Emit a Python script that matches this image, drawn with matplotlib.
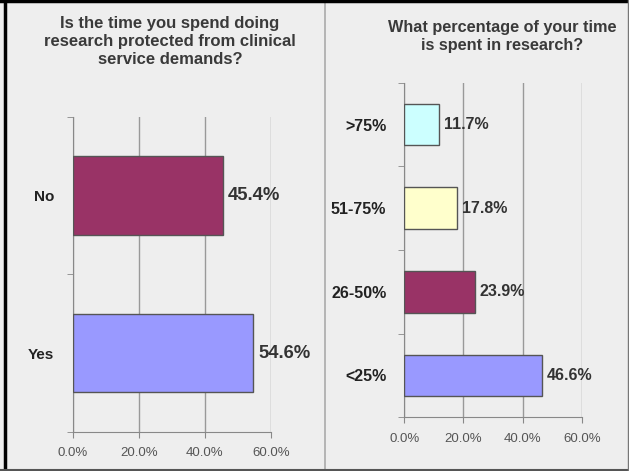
import matplotlib
matplotlib.use("Agg")
import matplotlib.pyplot as plt
from matplotlib.lines import Line2D
from matplotlib.ticker import FixedLocator

plt.rcParams["font.family"] = ["Liberation Sans", "DejaVu Sans"]

# left panel: protected research time
protect_labels = ["Yes", "No"]
protect_values = [54.6, 45.4]
protect_colors = ["#9999FF", "#993366"]

# right panel: share of time in research
share_labels = ["<25%", "26-50%", "51-75%", ">75%"]
share_values = [46.6, 23.9, 17.8, 11.7]
share_colors = ["#9999FF", "#993366", "#FFFFCC", "#CCFFFF"]

x_ticks = [0, 20, 40, 60]
x_ticklabels = ["0.0%", "20.0%", "40.0%", "60.0%"]

BG = "#EEEEEE"

fig = plt.figure(figsize=(6.29, 4.71), dpi=100, facecolor=BG)


def draw_panel(ax, labels, values, colors, title, title_y, title_x,
               value_size, cat_size, title_size):
    n = len(labels)
    pos = list(range(n))
    ax.set_facecolor(BG)
    ax.barh(pos, values, height=0.5, color=colors, edgecolor="#555555",
            linewidth=1.0, zorder=3)
    for p, v in zip(pos, values):
        ax.annotate(f"{v:.1f}%", (v, p), xytext=(3.5, 0), textcoords="offset points",
                    va="center", ha="left", fontsize=value_size, fontweight="bold",
                    color="#333333", zorder=4)
    ax.set_xlim(0, 60)
    ax.set_ylim(-0.5, n - 0.5)
    ax.set_xticks(x_ticks)
    ax.set_xticklabels(x_ticklabels, fontsize=9.5, color="#555555")
    ax.set_yticks(pos)
    ax.set_yticklabels(labels, fontsize=cat_size, fontweight="bold", color="#222222")
    ax.yaxis.set_minor_locator(FixedLocator([i - 0.5 for i in range(n + 1)]))
    ax.tick_params(axis="y", which="major", length=0, pad=13)
    ax.tick_params(axis="y", which="minor", length=4, color="#888888")
    ax.tick_params(axis="x", length=4, color="#888888", pad=7)
    ax.grid(axis="x", color="#999999", linewidth=1.0, zorder=0)
    for s in ["top", "right"]:
        ax.spines[s].set_visible(False)
    for s in ["left", "bottom"]:
        ax.spines[s].set_color("#888888")
    fig.text(title_x, title_y, title, ha="center", va="top", fontsize=title_size,
             fontweight="bold", color="#3A3A3A", linespacing=1.25)


ax1 = fig.add_axes([0.1153, 0.0834, 0.3155, 0.6682])
draw_panel(ax1, protect_labels, protect_values, protect_colors,
           "Is the time you spend doing\nresearch protected from clinical\nservice demands?",
           0.965, 0.270, 13.3, 11, 12)

ax2 = fig.add_axes([0.6428, 0.114, 0.282, 0.7104])
draw_panel(ax2, share_labels, share_values, share_colors,
           "What percentage of your time\nis spent in research?",
           0.958, 0.798, 11.5, 11.5, 11.7)

# frame and divider
fig.add_artist(Line2D([324.5 / 629, 324.5 / 629], [0, 1], color="#AAAAAA", linewidth=1.2))
fig.add_artist(Line2D([0, 1], [0.997, 0.997], color="#000000", linewidth=2.5))
fig.add_artist(Line2D([0.008, 0.008], [0, 1], color="#000000", linewidth=2.5))
fig.add_artist(Line2D([0, 1], [0.003, 0.003], color="#555555", linewidth=1.5))
fig.add_artist(Line2D([0.998, 0.998], [0, 1], color="#777777", linewidth=1.0))

fig.savefig("out.png", dpi=100, facecolor=BG)
